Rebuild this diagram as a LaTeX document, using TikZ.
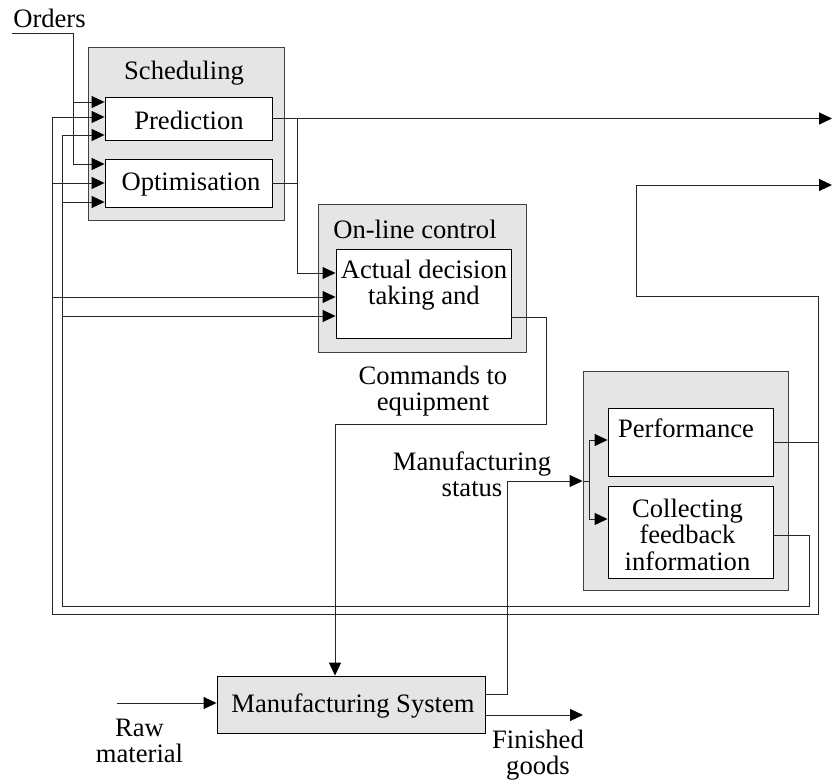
\documentclass[tikz,border=0pt]{standalone}
\usepackage{fontspec}
\setmainfont{Liberation Serif}
\usetikzlibrary{arrows.meta}
\begin{document}
\begin{tikzpicture}[x=1pt,y=-1pt,
  outerbox/.style={draw=black!75, fill=black!10, line width=0.9pt, inner sep=0pt},
  innerbox/.style={draw=black, fill=white, line width=0.9pt, inner sep=0pt},
  msbox/.style={draw=black, fill=black!10, line width=0.9pt, inner sep=0pt},
  lbl/.style={font=\fontsize{26.6}{26}\selectfont, inner sep=0pt, anchor=base},
  con/.style={draw=black!85, line width=0.9pt},
  arr/.style={con, -{Triangle[length=13pt,width=12pt,color=black]}}]
\useasboundingbox (0,0) rectangle (832,781);
% boxes
\node[outerbox, minimum width=196pt, minimum height=173pt] (sched) at (186,133.5) {};
\node[innerbox, minimum width=167pt, minimum height=43pt] (pred) at (188.5,118.5) {};
\node[innerbox, minimum width=167pt, minimum height=48pt] (opt) at (188.5,183) {};
\node[outerbox, minimum width=208pt, minimum height=148pt] (online) at (422,278) {};
\node[innerbox, minimum width=175pt, minimum height=89pt] (act) at (423.5,293.5) {};
\node[outerbox, minimum width=205pt, minimum height=219pt] (mon) at (685.5,480.5) {};
\node[innerbox, minimum width=165pt, minimum height=68pt] (perf) at (690.5,442) {};
\node[innerbox, minimum width=165pt, minimum height=92pt] (coll) at (690.5,532) {};
\node[msbox, minimum width=268pt, minimum height=57pt] (ms) at (351,704.5) {};
% helper coordinates
\coordinate (y102) at (0,102);
\coordinate (y164) at (0,164);
\coordinate (y183) at (0,183);
\coordinate (y202) at (0,202);
\coordinate (y273) at (0,273);
\coordinate (y297) at (0,297);
\coordinate (y316) at (0,316);
\coordinate (y317) at (0,317);
\coordinate (y440) at (0,440);
\coordinate (y519) at (0,519);
\coordinate (y535) at (0,535);
\coordinate (y694) at (0,694);
\coordinate (oS) at (12,33);
\coordinate (oC) at (73,33);
\coordinate (oB) at (73,102);
\coordinate (aTR) at (818,296);
\coordinate (aBR) at (818,614);
\coordinate (aBL) at (52,614);
\coordinate (aTL) at (52,117);
\coordinate (uL) at (636,296);
\coordinate (uT) at (636,185);
\coordinate (outB) at (832,185);
\coordinate (bBR) at (809,606);
\coordinate (bBL) at (62,606);
\coordinate (bTL) at (62,135);
\coordinate (pOut) at (832,118);
\coordinate (vX) at (297,118);
\coordinate (cA) at (546,424);
\coordinate (cB) at (335,424);
\coordinate (sA) at (507,481);
\coordinate (jX) at (589,481);
\coordinate (rS) at (117,703);
\coordinate (fE) at (583,715);
% orders
\draw[arr] (oS) -- (oC) |- (opt.west |- y164);
\draw[arr] (oB) -- (pred.west |- y102);
% loop A (performance)
\draw[arr] (perf.east) -- (perf.east -| aBR) -- (aBR) -- (aBL) -- (aTL) -- (pred.west |- aTL);
\draw[arr] (aBL |- y183) -- (opt.west |- y183);
\draw[arr] (aBL |- y297) -- (act.west |- y297);
\draw[arr] (perf.east -| aTR) -- (aTR) -- (uL) -- (uT) -- (outB);
% loop B (feedback)
\draw[arr] (coll.east |- y535) -- (bBR |- y535) -- (bBR) -- (bBL) -- (bTL) -- (pred.west |- bTL);
\draw[arr] (bBL |- y202) -- (opt.west |- y202);
\draw[arr] (bBL |- y316) -- (act.west |- y316);
% scheduling outputs
\draw[arr] (pred.east) -- (pred.east -| pOut);
\draw[arr] (pred.east -| vX) -- (vX |- y273) -- (act.west |- y273);
\draw[con] (opt.east) -- (opt.east -| vX);
% commands
\draw[arr] (act.east |- y317) -- (cA |- y317) -- (cA) -- (cB) -- (cB |- ms.north);
% manufacturing status
\draw[arr] (ms.east |- y694) -- (sA |- y694) -- (sA) -- (mon.west |- sA);
\draw[con] (mon.west |- sA) -- (jX);
\draw[arr] (jX) |- (perf.west |- y440);
\draw[arr] (jX) |- (coll.west |- y519);
% raw / finished
\draw[arr] (rS) -- (ms.west |- rS);
\draw[arr] (ms.east |- fE) -- (fE);
% labels
\node[lbl] (tOrders) at (49.5,28) {Orders};
\node[lbl] (tSched) at (184,80) {Scheduling};
\node[lbl] (tPred) at (189,129) {Prediction};
\node[lbl] (tOpt) at (191,190) {Optimisation};
\node[lbl] (tOnline) at (415,238) {On-line control};
\node[lbl] (tAct) at (424,278) {\begin{tabular}[t]{@{}c@{}}Actual decision\\taking and\end{tabular}};
\node[lbl] (tCmd) at (433,384) {\begin{tabular}[t]{@{}c@{}}Commands to\\equipment\end{tabular}};
\node[lbl] (tStat) at (472,470) {\begin{tabular}[t]{@{}c@{}}Manufacturing\\status\end{tabular}};
\node[lbl] (tPerf) at (686,437) {Performance};
\node[lbl] (tColl) at (687.5,517) {\begin{tabular}[t]{@{}c@{}}Collecting\\feedback\\information\end{tabular}};
\node[lbl] (tMS) at (353,712) {Manufacturing System};
\node[lbl] (tRaw) at (139.5,736) {\begin{tabular}[t]{@{}c@{}}Raw\\material\end{tabular}};
\node[lbl] (tFin) at (538,748) {\begin{tabular}[t]{@{}c@{}}Finished\\goods\end{tabular}};
\end{tikzpicture}
\end{document}
